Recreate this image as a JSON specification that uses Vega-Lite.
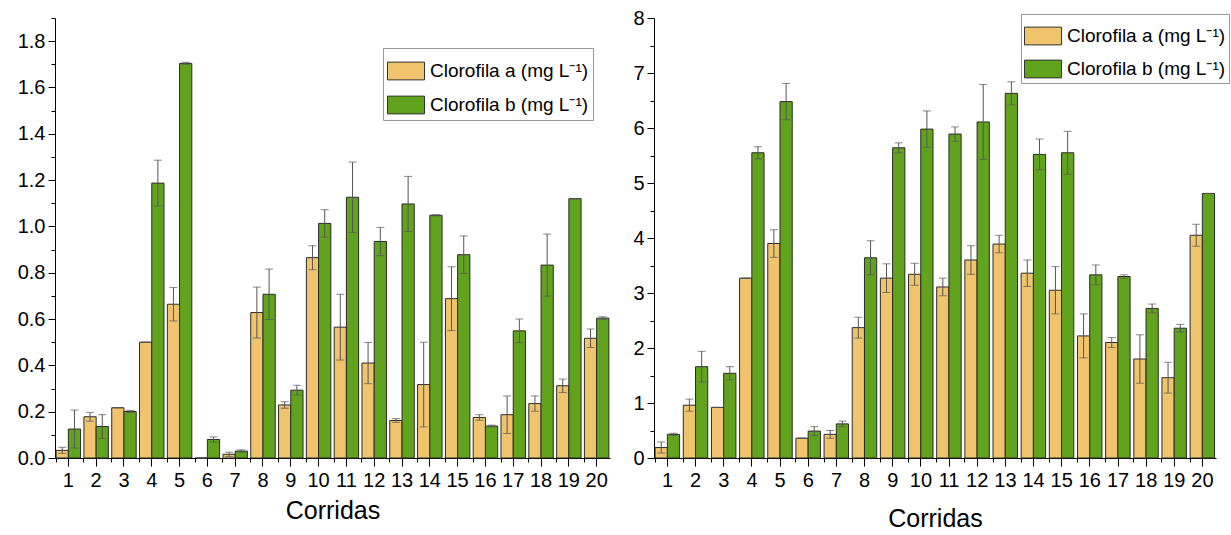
{
  "$schema": "https://vega.github.io/schema/vega-lite/v6.json",
  "padding": {"left": 17, "top": 8, "right": 0, "bottom": 0},
  "background": "white",
  "config": {
    "font": "Liberation Sans",
    "view": {"stroke": null},
    "axis": {"domainColor": "black", "tickColor": "black", "labelColor": "black", "titleColor": "black", "grid": false, "labelFont": "Liberation Sans", "titleFont": "Liberation Sans"}
  },
  "datasets": {
    "L": [
      {"run": 1, "s": "Clorofila a (mg L⁻¹)", "v": 0.033, "sd": 0.013}, {"run": 1, "s": "Clorofila b (mg L⁻¹)", "v": 0.125, "sd": 0.082},
      {"run": 2, "s": "Clorofila a (mg L⁻¹)", "v": 0.178, "sd": 0.019}, {"run": 2, "s": "Clorofila b (mg L⁻¹)", "v": 0.136, "sd": 0.051},
      {"run": 3, "s": "Clorofila a (mg L⁻¹)", "v": 0.217, "sd": 0.0}, {"run": 3, "s": "Clorofila b (mg L⁻¹)", "v": 0.201, "sd": 0.005},
      {"run": 4, "s": "Clorofila a (mg L⁻¹)", "v": 0.5, "sd": 0.0}, {"run": 4, "s": "Clorofila b (mg L⁻¹)", "v": 1.187, "sd": 0.099},
      {"run": 5, "s": "Clorofila a (mg L⁻¹)", "v": 0.664, "sd": 0.072}, {"run": 5, "s": "Clorofila b (mg L⁻¹)", "v": 1.704, "sd": 0.005},
      {"run": 6, "s": "Clorofila a (mg L⁻¹)", "v": 0.0, "sd": 0.0}, {"run": 6, "s": "Clorofila b (mg L⁻¹)", "v": 0.08, "sd": 0.011},
      {"run": 7, "s": "Clorofila a (mg L⁻¹)", "v": 0.016, "sd": 0.009}, {"run": 7, "s": "Clorofila b (mg L⁻¹)", "v": 0.03, "sd": 0.005},
      {"run": 8, "s": "Clorofila a (mg L⁻¹)", "v": 0.628, "sd": 0.11}, {"run": 8, "s": "Clorofila b (mg L⁻¹)", "v": 0.707, "sd": 0.109},
      {"run": 9, "s": "Clorofila a (mg L⁻¹)", "v": 0.229, "sd": 0.014}, {"run": 9, "s": "Clorofila b (mg L⁻¹)", "v": 0.293, "sd": 0.021},
      {"run": 10, "s": "Clorofila a (mg L⁻¹)", "v": 0.865, "sd": 0.052}, {"run": 10, "s": "Clorofila b (mg L⁻¹)", "v": 1.013, "sd": 0.059},
      {"run": 11, "s": "Clorofila a (mg L⁻¹)", "v": 0.565, "sd": 0.142}, {"run": 11, "s": "Clorofila b (mg L⁻¹)", "v": 1.126, "sd": 0.152},
      {"run": 12, "s": "Clorofila a (mg L⁻¹)", "v": 0.41, "sd": 0.089}, {"run": 12, "s": "Clorofila b (mg L⁻¹)", "v": 0.935, "sd": 0.061},
      {"run": 13, "s": "Clorofila a (mg L⁻¹)", "v": 0.162, "sd": 0.008}, {"run": 13, "s": "Clorofila b (mg L⁻¹)", "v": 1.097, "sd": 0.119},
      {"run": 14, "s": "Clorofila a (mg L⁻¹)", "v": 0.317, "sd": 0.183}, {"run": 14, "s": "Clorofila b (mg L⁻¹)", "v": 1.048, "sd": 0.003},
      {"run": 15, "s": "Clorofila a (mg L⁻¹)", "v": 0.688, "sd": 0.138}, {"run": 15, "s": "Clorofila b (mg L⁻¹)", "v": 0.878, "sd": 0.081},
      {"run": 16, "s": "Clorofila a (mg L⁻¹)", "v": 0.175, "sd": 0.012}, {"run": 16, "s": "Clorofila b (mg L⁻¹)", "v": 0.138, "sd": 0.004},
      {"run": 17, "s": "Clorofila a (mg L⁻¹)", "v": 0.187, "sd": 0.081}, {"run": 17, "s": "Clorofila b (mg L⁻¹)", "v": 0.549, "sd": 0.051},
      {"run": 18, "s": "Clorofila a (mg L⁻¹)", "v": 0.235, "sd": 0.033}, {"run": 18, "s": "Clorofila b (mg L⁻¹)", "v": 0.833, "sd": 0.134},
      {"run": 19, "s": "Clorofila a (mg L⁻¹)", "v": 0.312, "sd": 0.029}, {"run": 19, "s": "Clorofila b (mg L⁻¹)", "v": 1.12, "sd": 0.0},
      {"run": 20, "s": "Clorofila a (mg L⁻¹)", "v": 0.517, "sd": 0.04}, {"run": 20, "s": "Clorofila b (mg L⁻¹)", "v": 0.604, "sd": 0.006}
    ],
    "R": [
      {"run": 1, "s": "Clorofila a (mg L⁻¹)", "v": 0.19, "sd": 0.1}, {"run": 1, "s": "Clorofila b (mg L⁻¹)", "v": 0.43, "sd": 0.02},
      {"run": 2, "s": "Clorofila a (mg L⁻¹)", "v": 0.96, "sd": 0.11}, {"run": 2, "s": "Clorofila b (mg L⁻¹)", "v": 1.66, "sd": 0.28},
      {"run": 3, "s": "Clorofila a (mg L⁻¹)", "v": 0.92, "sd": 0.0}, {"run": 3, "s": "Clorofila b (mg L⁻¹)", "v": 1.54, "sd": 0.12},
      {"run": 4, "s": "Clorofila a (mg L⁻¹)", "v": 3.27, "sd": 0.0}, {"run": 4, "s": "Clorofila b (mg L⁻¹)", "v": 5.55, "sd": 0.11},
      {"run": 5, "s": "Clorofila a (mg L⁻¹)", "v": 3.9, "sd": 0.25}, {"run": 5, "s": "Clorofila b (mg L⁻¹)", "v": 6.48, "sd": 0.33},
      {"run": 6, "s": "Clorofila a (mg L⁻¹)", "v": 0.36, "sd": 0.0}, {"run": 6, "s": "Clorofila b (mg L⁻¹)", "v": 0.49, "sd": 0.08},
      {"run": 7, "s": "Clorofila a (mg L⁻¹)", "v": 0.43, "sd": 0.07}, {"run": 7, "s": "Clorofila b (mg L⁻¹)", "v": 0.62, "sd": 0.05},
      {"run": 8, "s": "Clorofila a (mg L⁻¹)", "v": 2.37, "sd": 0.19}, {"run": 8, "s": "Clorofila b (mg L⁻¹)", "v": 3.64, "sd": 0.31},
      {"run": 9, "s": "Clorofila a (mg L⁻¹)", "v": 3.27, "sd": 0.26}, {"run": 9, "s": "Clorofila b (mg L⁻¹)", "v": 5.64, "sd": 0.09},
      {"run": 10, "s": "Clorofila a (mg L⁻¹)", "v": 3.34, "sd": 0.2}, {"run": 10, "s": "Clorofila b (mg L⁻¹)", "v": 5.98, "sd": 0.33},
      {"run": 11, "s": "Clorofila a (mg L⁻¹)", "v": 3.11, "sd": 0.16}, {"run": 11, "s": "Clorofila b (mg L⁻¹)", "v": 5.89, "sd": 0.13},
      {"run": 12, "s": "Clorofila a (mg L⁻¹)", "v": 3.6, "sd": 0.26}, {"run": 12, "s": "Clorofila b (mg L⁻¹)", "v": 6.11, "sd": 0.68},
      {"run": 13, "s": "Clorofila a (mg L⁻¹)", "v": 3.89, "sd": 0.16}, {"run": 13, "s": "Clorofila b (mg L⁻¹)", "v": 6.63, "sd": 0.21},
      {"run": 14, "s": "Clorofila a (mg L⁻¹)", "v": 3.36, "sd": 0.24}, {"run": 14, "s": "Clorofila b (mg L⁻¹)", "v": 5.52, "sd": 0.28},
      {"run": 15, "s": "Clorofila a (mg L⁻¹)", "v": 3.05, "sd": 0.43}, {"run": 15, "s": "Clorofila b (mg L⁻¹)", "v": 5.55, "sd": 0.39},
      {"run": 16, "s": "Clorofila a (mg L⁻¹)", "v": 2.22, "sd": 0.4}, {"run": 16, "s": "Clorofila b (mg L⁻¹)", "v": 3.33, "sd": 0.18},
      {"run": 17, "s": "Clorofila a (mg L⁻¹)", "v": 2.1, "sd": 0.09}, {"run": 17, "s": "Clorofila b (mg L⁻¹)", "v": 3.3, "sd": 0.03},
      {"run": 18, "s": "Clorofila a (mg L⁻¹)", "v": 1.8, "sd": 0.44}, {"run": 18, "s": "Clorofila b (mg L⁻¹)", "v": 2.72, "sd": 0.08},
      {"run": 19, "s": "Clorofila a (mg L⁻¹)", "v": 1.46, "sd": 0.28}, {"run": 19, "s": "Clorofila b (mg L⁻¹)", "v": 2.36, "sd": 0.07},
      {"run": 20, "s": "Clorofila a (mg L⁻¹)", "v": 4.05, "sd": 0.2}, {"run": 20, "s": "Clorofila b (mg L⁻¹)", "v": 4.81, "sd": 0.0}
    ]
  },
  "spacing": 22,
  "resolve": {"scale": {"color": "independent", "y": "independent", "x": "independent"}},
  "hconcat": [
    {
      "width": 555,
      "height": 440,
      "data": {"name": "L"},
      "resolve": {"axis": {"x": "independent", "y": "independent"}},
      "encoding": {
        "xOffset": {"field": "s", "type": "nominal", "scale": {"paddingInner": 0, "paddingOuter": 0}}
      },
      "layer": [
        {
          "mark": {"type": "bar", "stroke": "#2b2b2b", "strokeWidth": 1},
          "encoding": {
            "x": {"field": "run", "type": "ordinal", "scale": {"paddingInner": 0.12, "paddingOuter": 0.04},
                  "axis": {"title": "Corridas", "labelAngle": 0, "labelFontSize": 20, "titleFontSize": 25, "titleFontWeight": "normal", "tickSize": 8, "labelPadding": 4, "titlePadding": 8}},
            "y": {"field": "v", "type": "quantitative", "scale": {"domain": [0, 1.9], "nice": false},
                  "axis": {"title": null, "values": [0, 0.2, 0.4, 0.6, 0.8, 1.0, 1.2, 1.4, 1.6, 1.8], "format": ".1f", "labelFontSize": 20, "tickSize": 7, "labelPadding": 3}},
            "color": {"field": "s", "type": "nominal", "scale": {"range": ["#f0c46c", "#62a31e"]},
                      "legend": {"title": null, "orient": "none", "legendX": 328, "legendY": 30, "direction": "vertical",
                                 "strokeColor": "#999999", "fillColor": "white", "padding": 4, "labelFontSize": 19, "labelColor": "black",
                                 "symbolType": "M-1,-0.48H1V0.48H-1Z", "symbolSize": 1369, "symbolStrokeColor": "#333333", "symbolStrokeWidth": 1, "symbolOpacity": 1,
                                 "rowPadding": 4, "labelOffset": 5, "labelLimit": 300}}
          }
        },
        {
          "mark": {"type": "bar", "opacity": 0},
          "encoding": {
            "x": {"field": "run", "type": "ordinal",
                  "axis": {"title": null, "orient": "bottom", "labels": false, "domain": false, "tickSize": 4, "bandPosition": 0}},
            "y": {"field": "v", "type": "quantitative",
                  "axis": {"title": null, "orient": "left", "labels": false, "domain": false, "tickSize": 4, "values": [0.1, 0.3, 0.5, 0.7, 0.9, 1.1, 1.3, 1.5, 1.7, 1.9]}}
          }
        },
        {
          "mark": {"type": "errorbar", "ticks": {"size": 8, "color": "#555555"}, "rule": {"color": "#555555"}},
          "encoding": {
            "x": {"field": "run", "type": "ordinal", "axis": null},
            "y": {"field": "v", "type": "quantitative", "axis": null},
            "yError": {"field": "sd"}
          }
        }
      ]
    },
    {
      "width": 562,
      "height": 440,
      "data": {"name": "R"},
      "resolve": {"axis": {"x": "independent", "y": "independent"}},
      "encoding": {
        "xOffset": {"field": "s", "type": "nominal", "scale": {"paddingInner": 0, "paddingOuter": 0}}
      },
      "layer": [
        {
          "mark": {"type": "bar", "stroke": "#2b2b2b", "strokeWidth": 1},
          "encoding": {
            "x": {"field": "run", "type": "ordinal", "scale": {"paddingInner": 0.12, "paddingOuter": 0.04},
                  "axis": {"title": "Corridas", "labelAngle": 0, "labelFontSize": 20, "titleFontSize": 25, "titleFontWeight": "normal", "tickSize": 8, "labelPadding": 4, "titlePadding": 16}},
            "y": {"field": "v", "type": "quantitative", "scale": {"domain": [0, 8], "nice": false},
                  "axis": {"title": null, "values": [0, 1, 2, 3, 4, 5, 6, 7, 8], "format": "d", "labelFontSize": 20, "tickSize": 7, "labelPadding": 3}},
            "color": {"field": "s", "type": "nominal", "scale": {"range": ["#f0c46c", "#62a31e"]},
                      "legend": {"title": null, "orient": "none", "legendX": 367, "legendY": -4, "direction": "vertical",
                                 "strokeColor": "#999999", "fillColor": "white", "padding": 3, "labelFontSize": 19, "labelColor": "black",
                                 "symbolType": "M-1,-0.48H1V0.48H-1Z", "symbolSize": 1369, "symbolStrokeColor": "#333333", "symbolStrokeWidth": 1, "symbolOpacity": 1,
                                 "rowPadding": 3, "labelOffset": 5, "labelLimit": 300}}
          }
        },
        {
          "mark": {"type": "bar", "opacity": 0},
          "encoding": {
            "x": {"field": "run", "type": "ordinal",
                  "axis": {"title": null, "orient": "bottom", "labels": false, "domain": false, "tickSize": 4, "bandPosition": 0}},
            "y": {"field": "v", "type": "quantitative",
                  "axis": {"title": null, "orient": "left", "labels": false, "domain": false, "tickSize": 4, "values": [0.5, 1.5, 2.5, 3.5, 4.5, 5.5, 6.5, 7.5]}}
          }
        },
        {
          "mark": {"type": "errorbar", "ticks": {"size": 8, "color": "#555555"}, "rule": {"color": "#555555"}},
          "encoding": {
            "x": {"field": "run", "type": "ordinal", "axis": null},
            "y": {"field": "v", "type": "quantitative", "axis": null},
            "yError": {"field": "sd"}
          }
        }
      ]
    }
  ]
}
